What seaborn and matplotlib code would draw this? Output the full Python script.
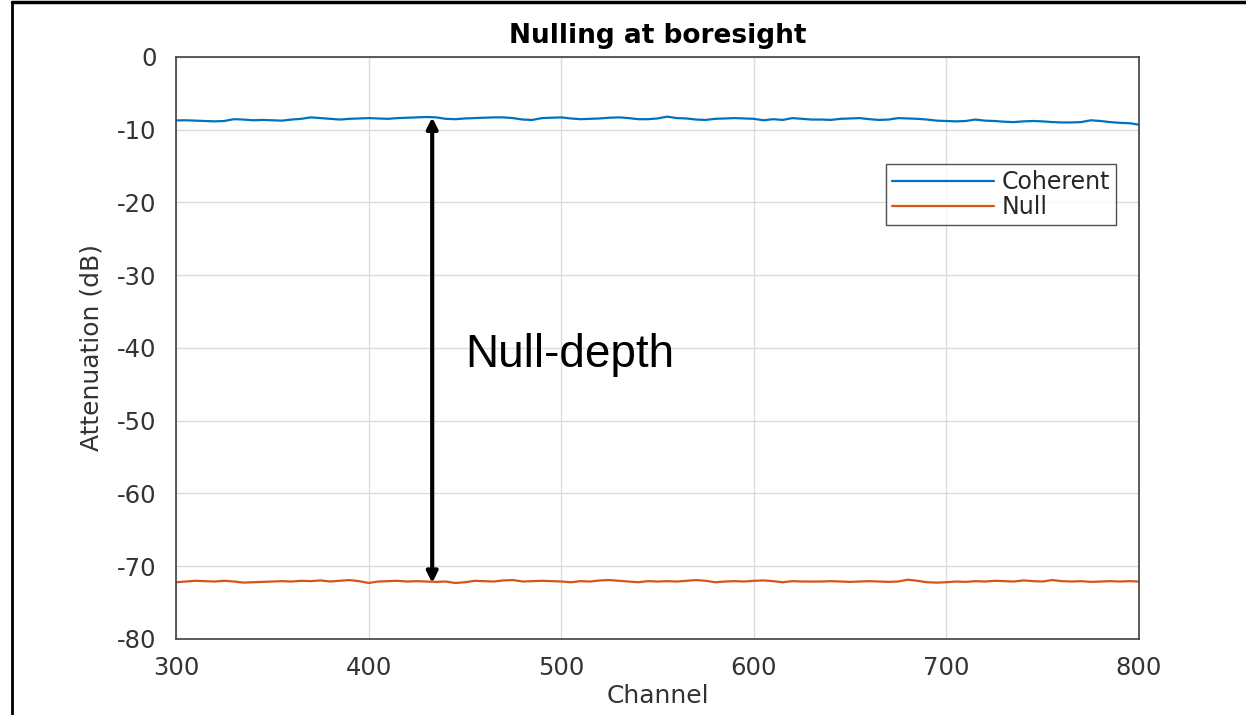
import numpy as np
import pandas as pd
import matplotlib
matplotlib.use("Agg")
import matplotlib.pyplot as plt
from matplotlib.lines import Line2D
import seaborn as sns

# ---- data (one value every 5 channels) ----
channels = list(range(300, 801, 5))

coherent_db = [
    -8.72, -8.70, -8.75, -8.80, -8.85, -8.80, -8.55, -8.60, -8.70, -8.65,
    -8.70, -8.75, -8.60, -8.50, -8.30, -8.40, -8.50, -8.60, -8.50, -8.45,
    -8.40, -8.45, -8.50, -8.40, -8.35, -8.30, -8.25, -8.30, -8.50, -8.55,
    -8.45, -8.40, -8.35, -8.30, -8.30, -8.40, -8.60, -8.65, -8.40, -8.35,
    -8.30, -8.45, -8.55, -8.50, -8.45, -8.35, -8.30, -8.40, -8.55, -8.55,
    -8.45, -8.20, -8.40, -8.45, -8.60, -8.65, -8.50, -8.45, -8.40, -8.45,
    -8.50, -8.70, -8.55, -8.65, -8.40, -8.50, -8.60, -8.60, -8.65, -8.50,
    -8.45, -8.40, -8.55, -8.65, -8.60, -8.40, -8.45, -8.50, -8.60, -8.75,
    -8.80, -8.85, -8.80, -8.60, -8.75, -8.80, -8.90, -8.95, -8.85, -8.80,
    -8.85, -8.95, -9.00, -9.00, -8.95, -8.70, -8.80, -8.95, -9.05, -9.10,
    -9.30,
]

null_db = [
    -72.20, -72.10, -72.00, -72.05, -72.10, -72.00, -72.10, -72.25, -72.20, -72.15,
    -72.10, -72.05, -72.10, -72.00, -72.05, -71.95, -72.10, -72.00, -71.90, -72.05,
    -72.30, -72.10, -72.05, -72.00, -72.10, -72.05, -72.10, -72.15, -72.10, -72.30,
    -72.20, -72.00, -72.05, -72.10, -71.95, -71.90, -72.10, -72.05, -72.00, -72.05,
    -72.10, -72.20, -72.05, -72.10, -71.95, -71.90, -72.00, -72.10, -72.20, -72.05,
    -72.10, -72.05, -72.10, -72.00, -71.90, -72.00, -72.20, -72.10, -72.05, -72.10,
    -72.00, -71.95, -72.05, -72.20, -72.05, -72.10, -72.10, -72.10, -72.05, -72.10,
    -72.15, -72.10, -72.05, -72.10, -72.15, -72.10, -71.85, -72.00, -72.20, -72.25,
    -72.20, -72.10, -72.15, -72.05, -72.10, -72.00, -72.05, -72.10, -71.95, -72.05,
    -72.10, -71.90, -72.05, -72.10, -72.05, -72.15, -72.10, -72.05, -72.10, -72.05,
    -72.10,
]

series_names = ["Coherent", "Null"]
series_colors = ["#0072BD", "#D95319"]

x_ticks = [300, 400, 500, 600, 700, 800]
y_ticks = [0, -10, -20, -30, -40, -50, -60, -70, -80]

title_text = "Nulling at boresight"
x_label = "Channel"
y_label = "Attenuation (dB)"
annot_text = "Null-depth"
arrow_channel = 433
arrow_top = -8.3
arrow_bottom = -72.3

# ---- build long table ----
df = pd.DataFrame({
    "Channel": channels * 2,
    "Attenuation": coherent_db + null_db,
    "Series": [series_names[0]] * len(channels) + [series_names[1]] * len(channels),
})

sns.set_theme(style="white")
plt.rcParams["font.family"] = ["DejaVu Sans"]

fig = plt.figure(figsize=(12.46, 7.15), dpi=100)
ax = fig.add_axes([0.1413, 0.1063, 0.7728, 0.814])

sns.lineplot(data=df, x="Channel", y="Attenuation", hue="Series",
             palette=dict(zip(series_names, series_colors)), linewidth=1.6,
             ax=ax, legend=True)

axcol = "#333333"
ax.set_xlim(300, 800)
ax.set_ylim(-80, 0)
ax.set_xticks(x_ticks)
ax.set_yticks(y_ticks)
ax.set_xticklabels([str(t) for t in x_ticks])
ax.set_yticklabels([str(t) for t in y_ticks])
ax.grid(True, color="#dcdcdc", linewidth=1.0)
ax.set_axisbelow(True)
for s in ax.spines.values():
    s.set_visible(True)
    s.set_color("#404040")
    s.set_linewidth(1.2)
ax.tick_params(axis="both", direction="in", length=6, width=1.2, color="#404040",
               labelsize=17.5, labelcolor=axcol)
ax.tick_params(axis="y", pad=14)
ax.tick_params(axis="x", pad=12)

ax.set_title(title_text, fontsize=19, fontweight="bold", color="black", pad=10)
ax.set_xlabel(x_label, fontsize=18, color=axcol, labelpad=3)
ax.set_ylabel(y_label, fontsize=18, color=axcol, labelpad=10)

leg = ax.legend(loc="upper right", bbox_to_anchor=(0.9766, 0.8155), fontsize=17,
                frameon=True, fancybox=False, edgecolor="#262626",
                handlelength=4.3, handletextpad=0.35, borderpad=0.25,
                labelspacing=0.05, borderaxespad=0)
leg.get_frame().set_linewidth(1.0)

# double-headed arrow
ax.annotate("", xy=(arrow_channel, arrow_bottom), xytext=(arrow_channel, arrow_top),
            arrowprops=dict(arrowstyle="<|-|>", color="black", lw=3,
                            mutation_scale=16, shrinkA=0, shrinkB=0))
ax.text(450, -41, annot_text, fontsize=33, family="Liberation Sans",
        color="black", va="center", ha="left")

# outer frame lines (left and top)
fig.add_artist(Line2D([12 / 1246, 12 / 1246], [0, 1 - 1.5 / 715],
                      transform=fig.transFigure, color="black", lw=2))
fig.add_artist(Line2D([12 / 1246, 1], [1 - 1.5 / 715, 1 - 1.5 / 715],
                      transform=fig.transFigure, color="black", lw=2.5))

fig.savefig("out.png", dpi=100)
